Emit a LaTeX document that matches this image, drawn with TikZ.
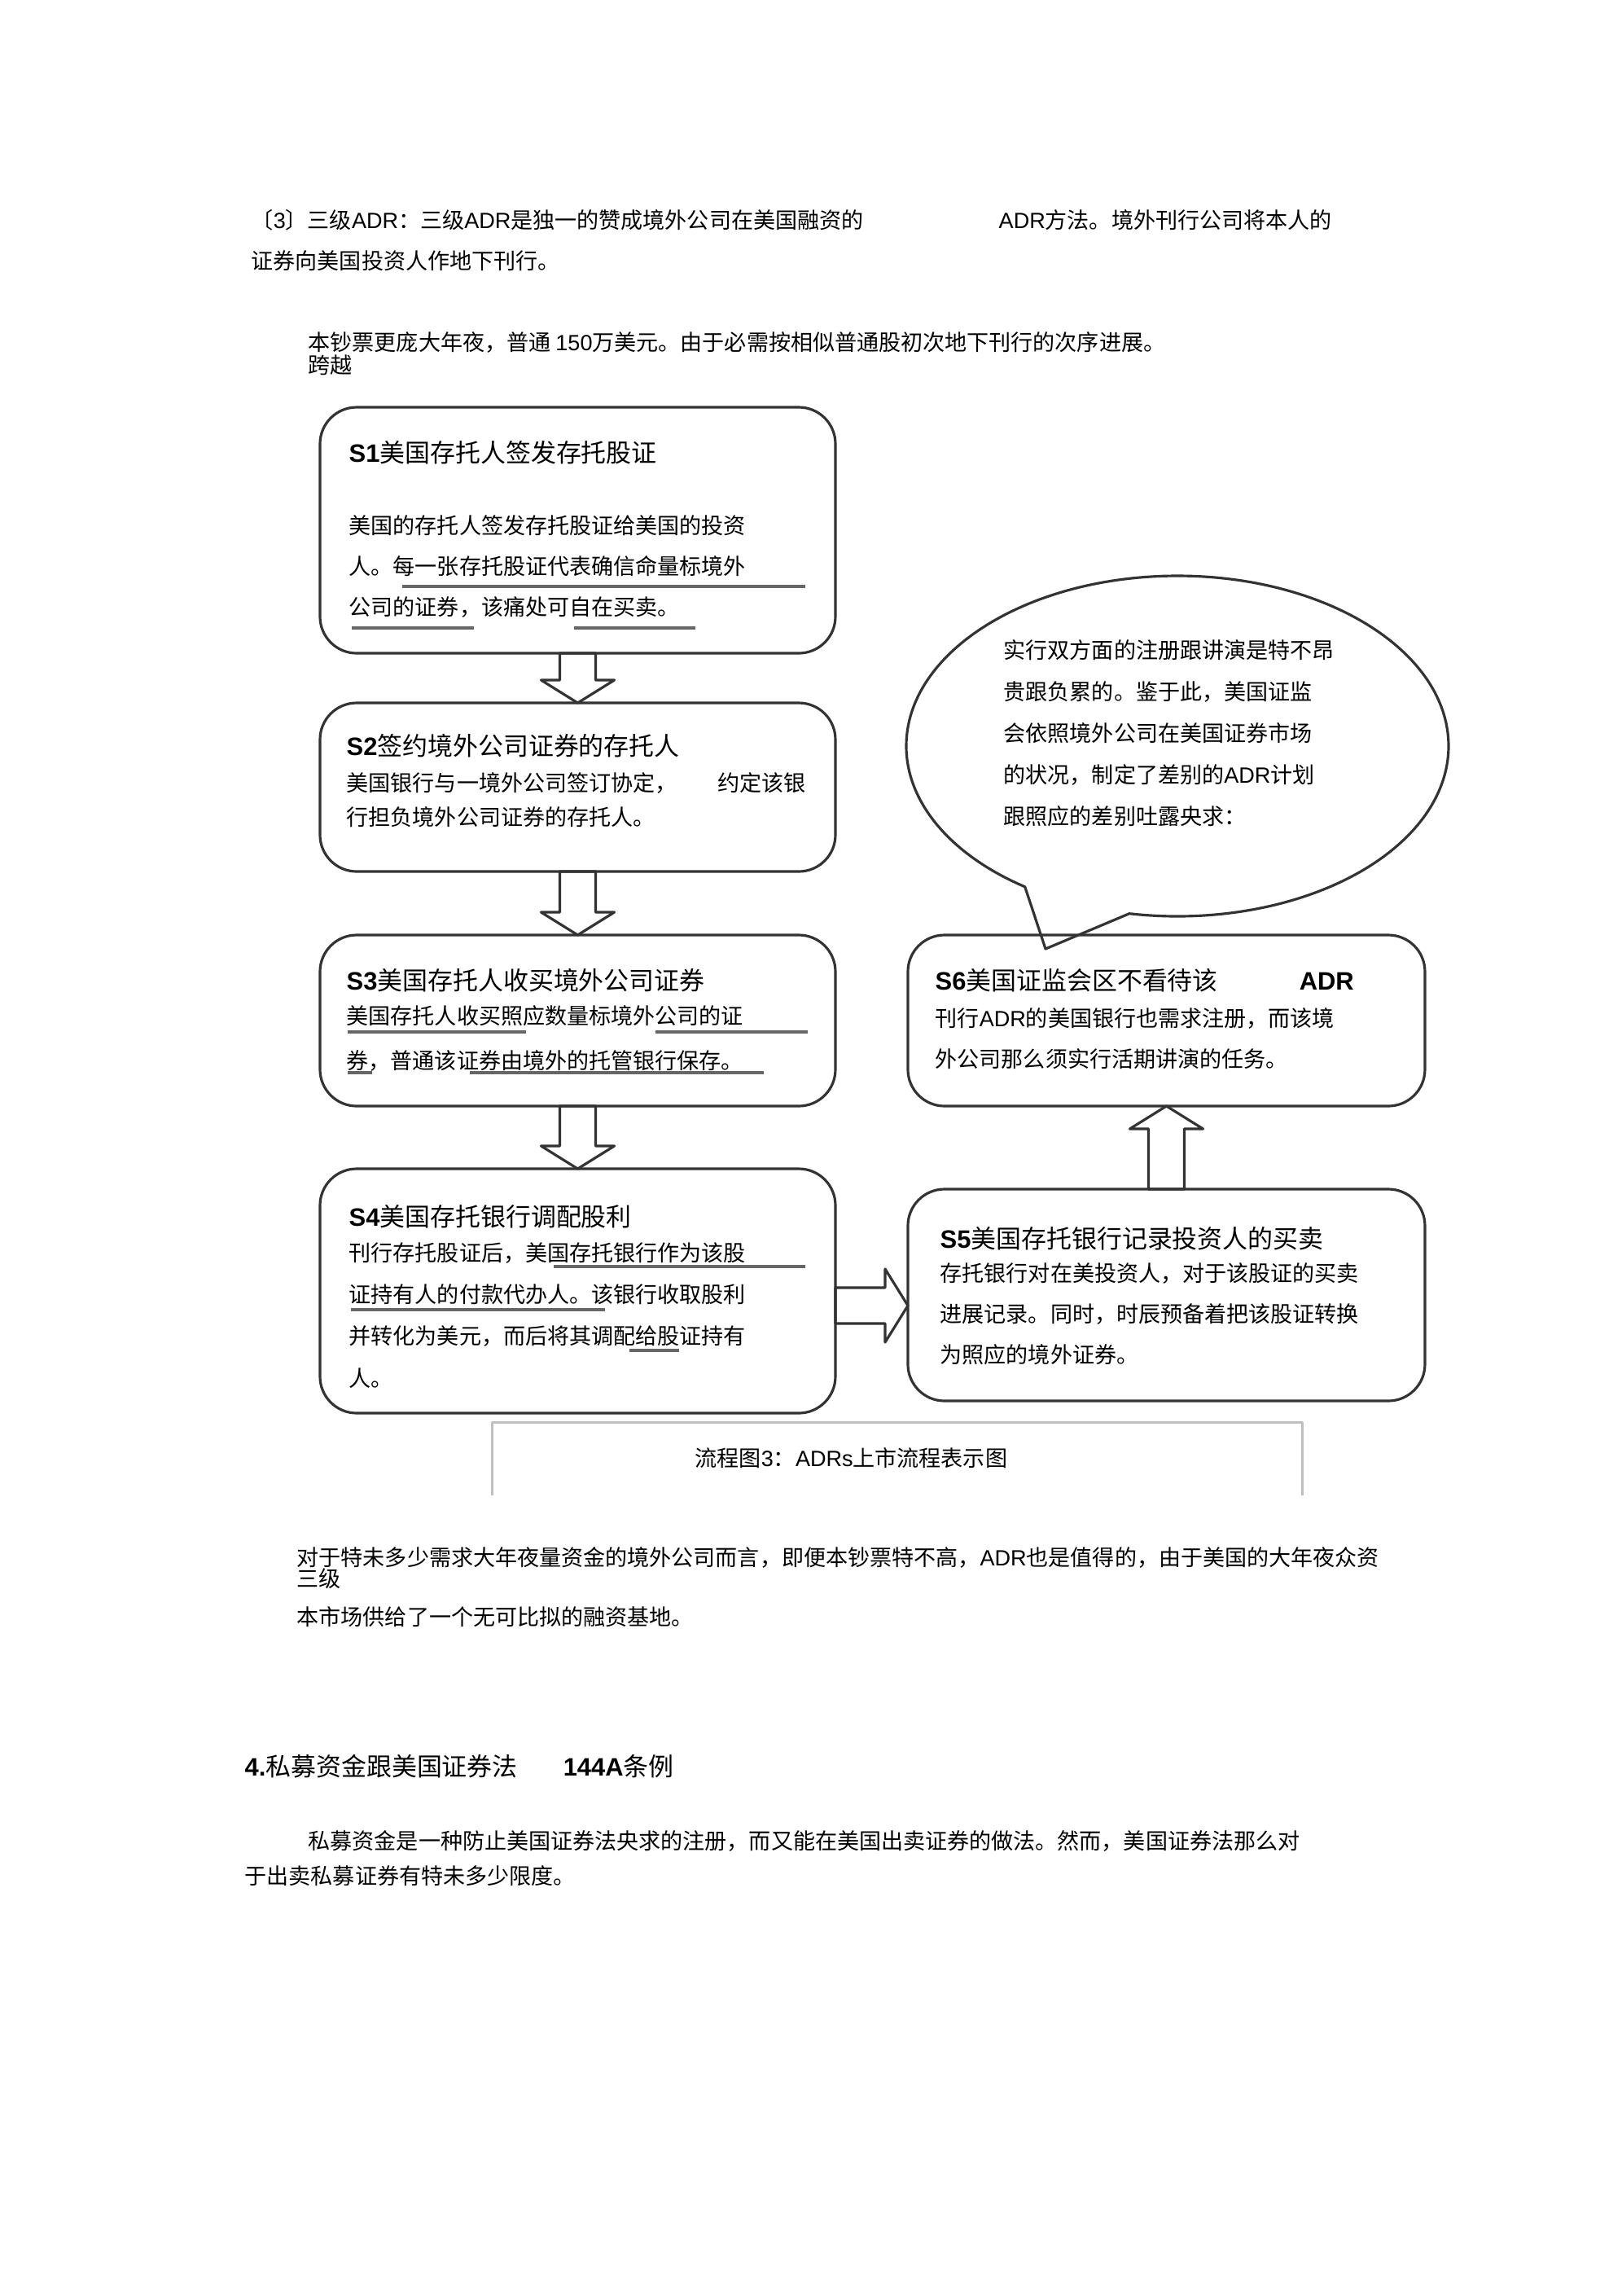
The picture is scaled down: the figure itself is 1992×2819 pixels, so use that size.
\documentclass[tikz,border=0pt]{standalone}
\usepackage{fontspec}
\setmainfont{Noto Sans CJK SC}
\newfontfamily\lat{Liberation Sans}
\usetikzlibrary{positioning,calc,shapes.callouts}

\newcommand{\txtsize}[2]{\fontsize{#1}{#2}\selectfont}
% hollow block arrow from #1 to #2
\newcommand{\blockarrow}[2]{%
  \coordinate (hb) at ($(#2)!2.8mm!(#1)$);
  \draw[blockline] ($(#1)!2.2mm!90:(#2)$) -- ($(hb)!2.2mm!90:(#2)$) -- ($(hb)!4.5mm!90:(#2)$) -- (#2)
    -- ($(hb)!4.5mm!-90:(#2)$) -- ($(hb)!2.2mm!-90:(#2)$) -- ($(#1)!2.2mm!-90:(#2)$) -- cycle;}

\begin{document}
\begin{tikzpicture}[x=0.1mm, y=-0.1mm, line join=round,
    box/.style = {draw=black!80, line width=0.9pt, rounded corners=4.5mm, minimum width=63.3mm, inner sep=0, outer sep=0},
    boxtitle/.style = {anchor=base west, inner sep=0, font=\txtsize{8.8pt}{10pt}},
    boxtext/.style = {anchor=base west, inner sep=0, align=left, font=\txtsize{7.7pt}{14.2pt}},
    paratext/.style = {anchor=base west, inner sep=0, font=\txtsize{7.7pt}{9pt}},
    uline/.style = {draw=black!60, line width=0.9pt},
    blockline/.style = {draw=black!80, line width=0.9pt},
    callbubble/.style = {ellipse callout, draw=black!80, line width=0.9pt, inner sep=0, callout pointer arc=24}]
  \path[use as bounding box, fill=white] (0,0) rectangle (1992,2819);

  % text above the chart
  \node[paratext] (p1) at (308,280) {〔{\lat 3}〕三级{\lat ADR}：三级{\lat ADR}是独一的赞成境外公司在美国融资的};
  \node[paratext] (p1b) at (1226,280) {{\lat ADR}方法。境外刊行公司将本人的};
  \node[paratext] (p2) at (308,330) {证券向美国投资人作地下刊行。};
  \node[paratext] (p3) at (378,430) {本钞票更庞大年夜，普通 {\lat 150}万美元。由于必需按相似普通股初次地下刊行的次序进展。};
  \node[paratext] (p4) at (378,458) {跨越};

  % left column
  \node[box, minimum height=30.2mm] (s1) at (709.5,651) {};
  \node[box, minimum height=20.7mm, below=6.1mm of s1] (s2) {};
  \node[box, minimum height=21mm, below=7.8mm of s2] (s3) {};
  \node[box, minimum height=30mm, below=7.7mm of s3] (s4) {};
  % right column
  \node[box, minimum width=63.5mm, minimum height=21mm, right=8.9mm of s3] (s6) {};
  \node[box, minimum width=63.5mm, minimum height=26mm, below=10.2mm of s6] (s5) {};
  \node[callbubble, minimum width=66.6mm, minimum height=41.8mm, callout absolute pointer={(1284,1165)}] (bubble) at (1446,916) {};

  % titles sit on their baseline, text blocks on the baseline of their last line
  \node[boxtitle] (t1) at ($(s1.north west)+(35,67)$) {{\lat\bfseries S1}美国存托人签发存托股证};
  \node[boxtext] (b1) at ($(s1.north west)+(35,255)$) {美国的存托人签发存托股证给美国的投资\\人。每一张存托股证代表确信命量标境外\\公司的证券，该痛处可自在买卖。};
  \node[boxtitle] (t2) at ($(s2.north west)+(32,64)$) {{\lat\bfseries S2}签约境外公司证券的存托人};
  \node[boxtext, font=\txtsize{7.7pt}{11.8pt}] (b2) at ($(s2.north west)+(32,150)$) {美国银行与一境外公司签订协定，\hspace{5mm}约定该银\\行担负境外公司证券的存托人。};
  \node[boxtitle] (t3) at ($(s3.north west)+(32,67)$) {{\lat\bfseries S3}美国存托人收买境外公司证券};
  \node[boxtext, font=\txtsize{7.7pt}{15.6pt}] (b3) at ($(s3.north west)+(32,164)$) {美国存托人收买照应数量标境外公司的证\\券，普通该证券由境外的托管银行保存。};
  \node[boxtitle] (t4) at ($(s4.north west)+(35,70)$) {{\lat\bfseries S4}美国存托银行调配股利};
  \node[boxtext, font=\txtsize{7.7pt}{14.6pt}] (b4) at ($(s4.north west)+(35,267)$) {刊行存托股证后，美国存托银行作为该股\\证持有人的付款代办人。该银行收取股利\\并转化为美元，而后将其调配给股证持有\\人。};
  \node[boxtitle] (t5) at ($(s5.north west)+(39,72)$) {{\lat\bfseries S5}美国存托银行记录投资人的买卖};
  \node[boxtext] (b5) at ($(s5.north west)+(39,213)$) {存托银行对在美投资人，对于该股证的买卖\\进展记录。同时，时辰预备着把该股证转换\\为照应的境外证券。};
  \node[boxtitle] (t6) at ($(s6.north west)+(33,67)$) {{\lat\bfseries S6}美国证监会区不看待该\hspace{10mm}{\lat\bfseries ADR}};
  \node[boxtext] (b6) at ($(s6.north west)+(33,162)$) {刊行{\lat ADR}的美国银行也需求注册，而该境\\外公司那么须实行活期讲演的任务。};
  \node[boxtext, font=\txtsize{7.7pt}{14.5pt}] (bt) at ($(bubble.center)+(-214,96)$) {实行双方面的注册跟讲演是特不昂\\贵跟负累的。鉴于此，美国证监\\会依照境外公司在美国证券市场\\的状况，制定了差别的{\lat ADR}计划\\跟照应的差别吐露央求：};

  % underlines
  \draw[uline] (494,720) -- (989,720);
  \draw[uline] (432,771) -- (582,771);
  \draw[uline] (705,771) -- (854,771);
  \draw[uline] (427,1267) -- (646,1267);
  \draw[uline] (805,1267) -- (992,1267);
  \draw[uline] (427,1317) -- (457,1317);
  \draw[uline] (577,1317) -- (938,1317);
  \draw[uline] (680,1555) -- (989,1555);
  \draw[uline] (431,1608) -- (743,1608);
  \draw[uline] (773,1658) -- (834,1658);

  % arrows
  \blockarrow{s1.south}{s2.north}
  \blockarrow{s2.south}{s3.north}
  \blockarrow{s3.south}{s4.north}
  \coordinate (r4) at ($(s4.east)+(0,18)$);
  \coordinate (r5) at (s5.west |- r4);
  \blockarrow{r4}{r5}
  \blockarrow{s5.north}{s6.south}

  % caption
  \node[minimum width=99.4mm, minimum height=8.8mm, inner sep=0] (capframe) at (1102,1791) {};
  \draw[black!25, line width=0.8pt] (capframe.south west) |- (capframe.north east) -- (capframe.south east);
  \node[paratext] (cap) at (853,1800) {流程图{\lat 3}：{\lat ADRs}上市流程表示图};

  % text below the chart
  \node[paratext] (p5) at (364,1922) {对于特未多少需求大年夜量资金的境外公司而言，即便本钞票特不高，{\lat ADR}也是值得的，由于美国的大年夜众资};
  \node[paratext] (p6) at (364,1948) {三级};
  \node[paratext] (p7) at (364,1995) {本市场供给了一个无可比拟的融资基地。};
  \node[paratext, font=\txtsize{8.8pt}{10pt}] (p8) at (300,2180) {{\lat\bfseries 4.}私募资金跟美国证券法\hspace{5.6mm}{\lat\bfseries 144A}条例};
  \node[paratext] (p9) at (378,2270) {私募资金是一种防止美国证券法央求的注册，而又能在美国出卖证券的做法。然而，美国证券法那么对};
  \node[paratext] (p10) at (300,2313) {于出卖私募证券有特未多少限度。};
\end{tikzpicture}
\end{document}
